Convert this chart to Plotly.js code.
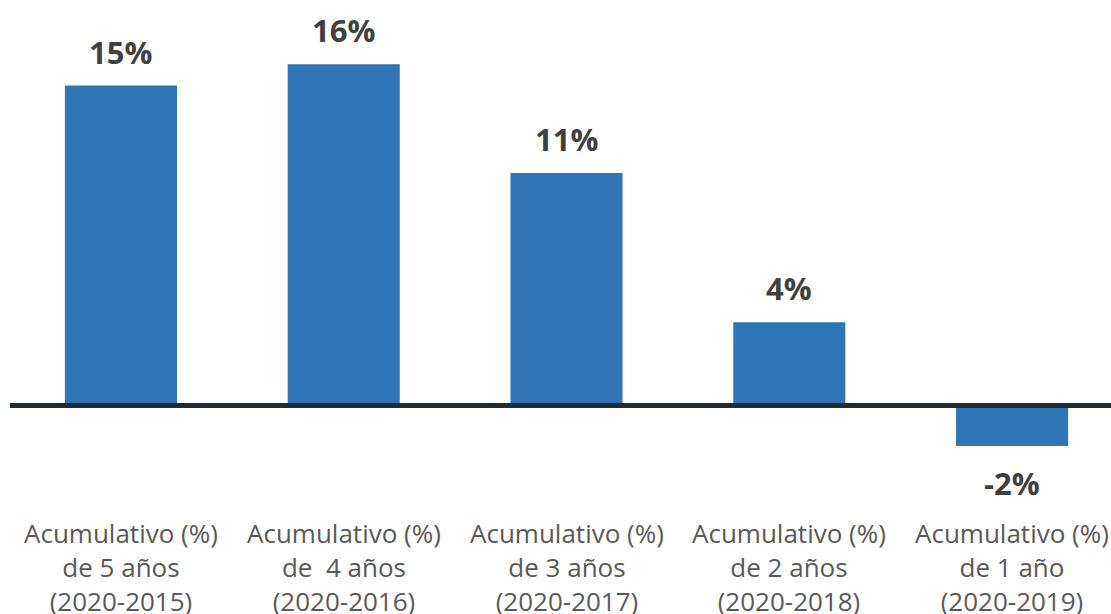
<!DOCTYPE html>
<html>
<head>
<meta charset="utf-8">
<script src="https://cdn.plot.ly/plotly-3.0.1.min.js"></script>
<style>html,body{margin:0;padding:0;background:#fff;}#chart{width:1111px;height:614px;}</style>
</head>
<body>
<div id="chart"></div>
<script>
const categories = [
  "Acumulativo (%)<br>de 5 años<br>(2020-2015)",
  "Acumulativo (%)<br>de  4 años<br>(2020-2016)",
  "Acumulativo (%)<br>de 3 años<br>(2020-2017)",
  "Acumulativo (%)<br>de 2 años<br>(2020-2018)",
  "Acumulativo (%)<br>de 1 año<br>(2020-2019)"
];
const values = [15.0, 16.0, 10.9, 3.9, -1.9];
const valueLabels = ["15%", "16%", "11%", "4%", "-2%"];

const xIdx = categories.map((_, i) => i);

const valueAnnotations = values.map((v, i) => ({
  x: i, y: v, xref: 'x', yref: 'y',
  text: '<b>' + valueLabels[i] + '</b>',
  showarrow: false,
  yanchor: 'middle',
  yshift: v >= 0 ? 34 : -37,
  font: {family: 'Open Sans, sans-serif', size: 31, color: '#404040'}
}));

const catAnnotations = categories.map((c, i) => ({
  x: i, y: -7.57, xref: 'x', yref: 'y',
  text: c,
  showarrow: false,
  yanchor: 'middle',
  font: {family: 'Open Sans, sans-serif', size: 26, color: '#595959'}
}));

Plotly.newPlot('chart', [{
  type: 'bar',
  x: xIdx,
  y: values,
  width: 0.503,
  marker: {color: '#2E75B6'},
  hoverinfo: 'none'
}], {
  width: 1111, height: 614,
  margin: {l: 10, r: 0, t: 0, b: 0},
  paper_bgcolor: '#ffffff',
  plot_bgcolor: '#ffffff',
  showlegend: false,
  xaxis: {range: [-0.498, 4.444], visible: false, fixedrange: true},
  yaxis: {range: [-9.77, 19.01], visible: false, zeroline: false, fixedrange: true},
  shapes: [{
    type: 'line', xref: 'paper', yref: 'y', x0: 0, x1: 1, y0: 0, y1: 0,
    line: {color: '#222A35', width: 5}, layer: 'above'
  }],
  annotations: valueAnnotations.concat(catAnnotations)
}, {staticPlot: true});
</script>
</body>
</html>
